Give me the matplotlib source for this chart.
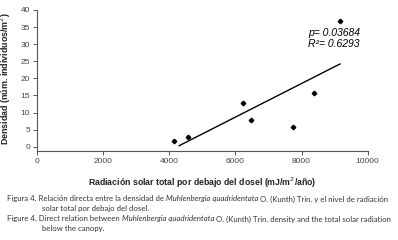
import matplotlib
matplotlib.use("Agg")
import matplotlib.pyplot as plt

# Data
radiation = [4130, 4555, 6220, 6460, 7750, 8390, 9160]
density = [1.8, 2.8, 12.8, 7.8, 5.8, 15.7, 36.7]
trend_x = [4300, 9160]
trend_y = [0.3, 24.2]
x_ticks = [0, 2000, 4000, 6000, 8000, 10000]
y_ticks = [0, 5, 10, 15, 20, 25, 30, 35, 40]
stats_lines = ["p= 0.03684", "R²= 0.6293"]
xlabel = "Radiación solar total por debajo del dosel (mJ/m$^2$/año)"
ylabel = "Densidad (núm. individuos/m$^2$)"
caption = [
    [("Figura 4. Relación directa entre la densidad de ", False), ("Muhlenbergia quadridentata", True),
     (" O. (Kunth) Trin. y el nivel de radiación", False)],
    [("solar total por debajo del dosel.", False)],
    [("Figure 4. Direct relation between ", False), ("Muhlenbergia quadridentata", True),
     (" O. (Kunth) Trin. density and the total solar radiation", False)],
    [("below the canopy.", False)],
]

W, H = 398, 240
fig = plt.figure(figsize=(W / 100, H / 100), dpi=100)
fig.patch.set_facecolor("white")
ax = fig.add_axes([37 / W, 1 - 150.7 / H, (367.7 - 37) / W, (150.7 - 10) / H])

ax.plot(radiation, density, linestyle="none", marker="D", markersize=2.3, color="black")
ax.plot(trend_x, trend_y, color="black", linewidth=1.0)

ax.set_xlim(0, 10000)
ax.set_ylim(-1.17, 40)
ax.set_xticks(x_ticks)
ax.set_yticks(y_ticks)
ax.set_xticklabels([str(v) for v in x_ticks])
ax.set_yticklabels([str(v) for v in y_ticks])

for s in ["top", "right"]:
    ax.spines[s].set_visible(False)
for s in ["left", "bottom"]:
    ax.spines[s].set_color("#555555")
    ax.spines[s].set_linewidth(0.8)
ax.tick_params(axis="both", direction="out", length=3, width=0.7, color="#555555",
               labelsize=6, labelcolor="#444444", pad=2)
for lab in ax.get_xticklabels() + ax.get_yticklabels():
    lab.set_family("Liberation Sans")

ax.set_xlabel(xlabel, fontsize=6.3, fontweight="bold", family="Liberation Sans", color="#222222", labelpad=5)
ax.set_ylabel(ylabel, fontsize=6.4, fontweight="bold", family="Liberation Sans", color="#222222", labelpad=3)
ax.xaxis.set_label_coords((202 - 37) / (367.7 - 37), -(176 - 150.7) / 140.7)
ax.yaxis.set_label_coords(-(37 - 13) / (367.7 - 37), (150.7 - 79) / 140.7)

ax.text(0.82, 0.837, stats_lines[0], transform=ax.transAxes, fontsize=7.5, style="italic",
        family="Liberation Sans", va="center", ha="left")
ax.text(0.82, 0.758, stats_lines[1], transform=ax.transAxes, fontsize=7.5, style="italic",
        family="Liberation Sans", va="center", ha="left")

# Caption drawn piecewise
fig.canvas.draw()
renderer = fig.canvas.get_renderer()
line_y = [199, 209, 219, 228.5]
line_x = [7, 42, 7, 42]
for pieces, yy, xx in zip(caption, line_y, line_x):
    x = xx
    for txt, ital in pieces:
        t = fig.text(x / W, 1 - yy / H, txt, fontsize=5.6, family="Lato",
                     style="italic" if ital else "normal", va="center", ha="left", color="#333333")
        bb = t.get_window_extent(renderer)
        x += bb.width

fig.savefig("out.png", dpi=100, facecolor="white")
